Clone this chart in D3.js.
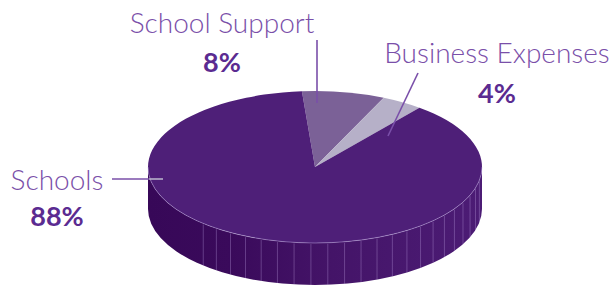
<!DOCTYPE html>
<html>
<head>
  <meta charset="UTF-8">
  <title>Spending split</title>
  <style>
    body { margin: 0; background: #fff; }
    .lbl { font-family: Lato, "Open Sans", sans-serif; font-weight: 300; fill: #7a4fa9; }
    .pct { font-family: Lato, "Open Sans", sans-serif; font-weight: 700; fill: #5b2b91; }
  </style>
</head>
<body>
<svg id="chart"></svg>
<script src="https://d3js.org/d3.v7.min.js"></script>
<script>

let width = 615, height = 285;

// data
var categories = ["School Support", "Business Expenses", "Schools"];
var shares = [8, 4, 88];
var colors = ["#7b6197", "#b6b0c8", "#4e1f78"];

let svg = d3.select("#chart")
    .attr("width", width)
    .attr("height", height);

// pie geometry (ellipse = tilted circle)
var cx = 315, cy = 167, rx = 167, ry = 76, depth = 42;
var startDeg = -4.5;

var pie = d3.pie()
    .sort(null)
    .value(d => d)
    .startAngle(startDeg * Math.PI / 180)
    .endAngle((startDeg + 360) * Math.PI / 180);

var arcs = pie(shares);

function pt(a, dy) {
    return [cx + rx * Math.sin(a), cy - ry * Math.cos(a) + (dy || 0)];
}

// side wall with gradient
var defs = svg.append("defs");
var grad = defs.append("linearGradient")
    .attr("id", "side")
    .attr("x1", "0").attr("x2", "1").attr("y1", "0").attr("y2", "0");
grad.append("stop").attr("offset", "0%").attr("stop-color", "#370858");
grad.append("stop").attr("offset", "25%").attr("stop-color", "#3a0a5b");
grad.append("stop").attr("offset", "55%").attr("stop-color", "#441468");
grad.append("stop").attr("offset", "100%").attr("stop-color", "#4c1c75");

svg.append("path")
    .attr("d", "M" + (cx + rx) + "," + cy +
        " L" + (cx + rx) + "," + (cy + depth) +
        " A" + rx + "," + ry + " 0 0 1 " + (cx - rx) + "," + (cy + depth) +
        " L" + (cx - rx) + "," + cy +
        " A" + rx + "," + ry + " 0 0 0 " + (cx + rx) + "," + cy + " Z")
    .attr("fill", "url(#side)");

// facet lines on the side
var facets = d3.range(-42, 82, 5.8);
svg.append("g")
    .selectAll("line")
    .data(facets)
    .enter()
    .append("line")
    .attr("x1", d => pt(Math.PI + d * Math.PI / 180 * -1)[0])
    .attr("x2", d => pt(Math.PI + d * Math.PI / 180 * -1)[0])
    .attr("y1", d => pt(Math.PI - d * Math.PI / 180)[1] + 1)
    .attr("y2", d => pt(Math.PI - d * Math.PI / 180, depth)[1])
    .attr("stroke", "rgba(200,175,235,0.35)")
    .attr("stroke-width", 0.9);

// top face slices
svg.append("g")
    .selectAll("path")
    .data(arcs)
    .enter()
    .append("path")
    .attr("d", function(d) {
        var p0 = pt(d.startAngle), p1 = pt(d.endAngle);
        var large = (d.endAngle - d.startAngle) > Math.PI ? 1 : 0;
        return "M" + cx + "," + cy + " L" + p0[0] + "," + p0[1] +
            " A" + rx + "," + ry + " 0 " + large + " 1 " + p1[0] + "," + p1[1] + " Z";
    })
    .attr("fill", (d, i) => colors[i]);

// light rim on the front edge
svg.append("path")
    .attr("d", "M" + (cx - rx) + "," + cy +
        " A" + rx + "," + ry + " 0 0 0 " + (cx + rx) + "," + cy)
    .attr("fill", "none")
    .attr("stroke", "rgba(205,185,240,0.55)")
    .attr("stroke-width", 0.8);

// labels
var labels = [
    {name: categories[0], pct: shares[0] + "%", x: 222, y: 33, py: 72,
     line: [[317, 40], [317, 103]], inner: null},
    {name: categories[1], pct: shares[1] + "%", x: 497, y: 63, py: 103,
     line: [[418, 73], [388, 136]], inner: null},
    {name: categories[2], pct: shares[2] + "%", x: 57, y: 190, py: 226,
     line: [[112, 179], [149, 179]], inner: [[149, 179], [163, 179]]}
];

var g = svg.append("g");
labels.forEach(function(l) {
    g.append("text").attr("class", "lbl")
        .attr("x", l.x).attr("y", l.y)
        .attr("text-anchor", "middle")
        .style("font-size", "28px")
        .text(l.name);
    g.append("text").attr("class", "pct")
        .attr("x", l.x).attr("y", l.py)
        .attr("text-anchor", "middle")
        .style("font-size", "27px")
        .text(l.pct);
    g.append("line")
        .attr("x1", l.line[0][0]).attr("y1", l.line[0][1])
        .attr("x2", l.line[1][0]).attr("y2", l.line[1][1])
        .attr("stroke", "#7a4fa9").attr("stroke-width", 1.6);
    if (l.inner) {
        g.append("line")
            .attr("x1", l.inner[0][0]).attr("y1", l.inner[0][1])
            .attr("x2", l.inner[1][0]).attr("y2", l.inner[1][1])
            .attr("stroke", "#b6b0c8").attr("stroke-width", 1.6);
    }
});

</script>
</body>
</html>
